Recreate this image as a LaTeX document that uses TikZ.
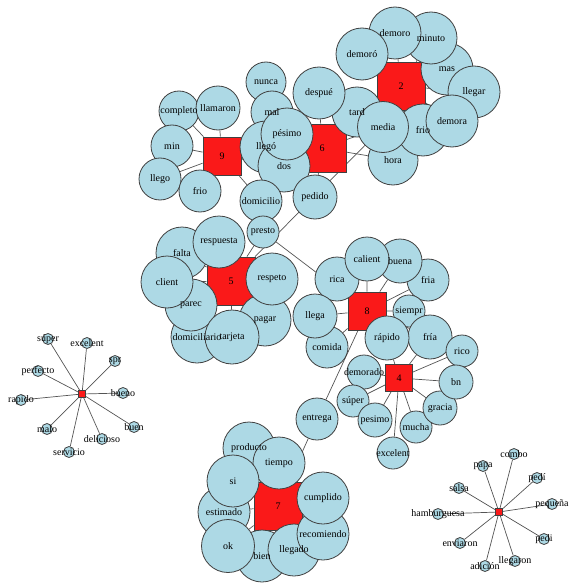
\documentclass[tikz,border=0pt]{standalone}
\usepackage{fontspec}
\setmainfont{Liberation Serif}
\usetikzlibrary{backgrounds}

\definecolor{qqblue}{rgb}{0.68,0.85,0.9}
\definecolor{qqred}{rgb}{0.98,0.1,0.1}
\definecolor{qqgray}{rgb}{0.33,0.33,0.33}
\definecolor{qqrim}{rgb}{0.25,0.25,0.25}

\begin{document}
\begin{tikzpicture}[x=1pt,y=-1pt,
    word/.style={circle,draw=qqrim,line width=0.8pt,fill=qqblue,inner sep=0pt},
    topic/.style={rectangle,draw=qqrim,line width=0.8pt,fill=qqred,inner sep=0pt},
    lbl/.style={font=\fontsize{10}{12}\selectfont,inner sep=0pt},
    edge/.style={line width=0.7pt,color=qqgray}]
    \useasboundingbox (0,0) rectangle (568,583);
    % topics
    \node[topic,minimum size=38pt] (t9) at (222,156) {};
    \node[topic,minimum size=48pt] (t6) at (322,148) {};
    \node[topic,minimum size=48pt] (t2) at (401,86) {};
    \node[topic,minimum size=48pt] (t5) at (231,281) {};
    \node[topic,minimum size=38pt] (t8) at (367,311) {};
    \node[topic,minimum size=27pt] (t4) at (399,378) {};
    \node[topic,minimum size=48pt] (t7) at (278,506) {};
    \node[topic,minimum size=7pt] (t1) at (82,394) {};
    \node[topic,minimum size=7pt] (t3) at (499,512) {};
    % words of 9
    \node[word,minimum size=40pt] (completo) at (179,111) {};
    \node[word,minimum size=44pt] (llamaron) at (218,108) {};
    \node[word,minimum size=42pt] (min) at (172,146) {};
    \node[word,minimum size=42pt] (llego) at (160,179) {};
    \node[word,minimum size=42pt] (frioA) at (200,191) {};
    \node[word,minimum size=40pt] (nunca) at (266,82) {};
    \node[word,minimum size=42pt] (mal) at (272,112) {};
    \node[word,minimum size=52pt] (llegoB) at (266,147) {};
    \node[word,minimum size=52pt] (dos) at (284,166) {};
    \node[word,minimum size=52pt] (pesimo) at (287,134) {};
    \node[word,minimum size=42pt] (domicilio) at (261,201) {};
    \node[word,minimum size=44pt] (pedido) at (315,197) {};
    % words of 6 and 2
    \node[word,minimum size=50pt] (tard) at (357,112) {};
    \node[word,minimum size=52pt] (despue) at (319,93) {};
    \node[word,minimum size=50pt] (hora) at (393,160) {};
    \node[word,minimum size=52pt] (frioB) at (423,130) {};
    \node[word,minimum size=51pt] (media) at (383,127) {};
    \node[word,minimum size=52pt] (mas) at (447,69) {};
    \node[word,minimum size=52pt] (llegar) at (474,92) {};
    \node[word,minimum size=52pt] (demora) at (452,121) {};
    \node[word,minimum size=52pt] (minuto) at (431,38) {};
    \node[word,minimum size=52pt] (demoro) at (395,33) {};
    \node[word,minimum size=52pt] (demoroB) at (362,54) {};
    % words of 5
    \node[word,minimum size=52pt] (falta) at (182,253) {};
    \node[word,minimum size=52pt] (respuesta) at (219,242) {};
    \node[word,minimum size=52pt] (domiciliario) at (197,337) {};
    \node[word,minimum size=52pt] (parec) at (191,305) {};
    \node[word,minimum size=52pt] (client) at (167,282) {};
    \node[word,minimum size=52pt] (pagar) at (265,320) {};
    \node[word,minimum size=54pt] (tarjeta) at (232,337) {};
    \node[word,minimum size=52pt] (respeto) at (272,279) {};
    \node[word,minimum size=32pt] (presto) at (263,232) {};
    % words of 8
    \node[word,minimum size=44pt] (rica) at (337,279) {};
    \node[word,minimum size=42pt] (fria) at (428,280) {};
    \node[word,minimum size=44pt] (buena) at (400,261) {};
    \node[word,minimum size=44pt] (calient) at (367,259) {};
    \node[word,minimum size=42pt] (comida) at (327,347) {};
    \node[word,minimum size=44pt] (llega) at (315,316) {};
    \node[word,minimum size=32pt] (siempr) at (409,311) {};
    \node[word,minimum size=44pt] (friaB) at (430,337) {};
    \node[word,minimum size=44pt] (rapido) at (387,338) {};
    \node[word,minimum size=32pt] (rico) at (462,351) {};
    % words of 4
    \node[word,minimum size=34pt] (demorado) at (364,372) {};
    \node[word,minimum size=32pt] (superB) at (353,401) {};
    \node[word,minimum size=34pt] (pesimoB) at (375,420) {};
    \node[word,minimum size=32pt] (mucha) at (416,427) {};
    \node[word,minimum size=32pt] (excelentB) at (393,453) {};
    \node[word,minimum size=34pt] (gracia) at (440,408) {};
    \node[word,minimum size=34pt] (bn) at (456,382) {};
    % words of 7
    \node[word,minimum size=52pt] (estimado) at (224,512) {};
    \node[word,minimum size=52pt] (producto) at (249,448) {};
    \node[word,minimum size=52pt] (tiempo) at (279,463) {};
    \node[word,minimum size=52pt] (si) at (233,481) {};
    \node[word,minimum size=52pt] (bien) at (262,556) {};
    \node[word,minimum size=53pt] (ok) at (228,546) {};
    \node[word,minimum size=52pt] (llegado) at (294,550) {};
    \node[word,minimum size=52pt] (recomiendo) at (323,534) {};
    \node[word,minimum size=52pt] (cumplido) at (323,498) {};
    \node[word,minimum size=42pt] (entrega) at (317,419) {};
    % words of 1
    \node[word,minimum size=11pt] (superA) at (48,339) {};
    \node[word,minimum size=11pt] (excelentA) at (87,343) {};
    \node[word,minimum size=11pt] (spr) at (115,361) {};
    \node[word,minimum size=11pt] (bueno) at (123,393) {};
    \node[word,minimum size=11pt] (buen) at (134,427) {};
    \node[word,minimum size=11pt] (delicioso) at (102,439) {};
    \node[word,minimum size=11pt] (servicio) at (69,452) {};
    \node[word,minimum size=11pt] (malo) at (47,429) {};
    \node[word,minimum size=11pt] (rapidoA) at (21,400) {};
    \node[word,minimum size=11pt] (perfecto) at (38,371) {};
    % words of 3
    \node[word,minimum size=11pt] (combo) at (514,454) {};
    \node[word,minimum size=11pt] (papa) at (483,466) {};
    \node[word,minimum size=11pt] (pediA) at (537,478) {};
    \node[word,minimum size=11pt] (pequena) at (552,504) {};
    \node[word,minimum size=11pt] (pediB) at (544,539) {};
    \node[word,minimum size=11pt] (llegaron) at (515,561) {};
    \node[word,minimum size=11pt] (adicion) at (485,566) {};
    \node[word,minimum size=11pt] (enviaron) at (460,543) {};
    \node[word,minimum size=11pt] (hamburguesa) at (438,514) {};
    \node[word,minimum size=11pt] (salsa) at (459,488) {};
    % edges
    \begin{pgfonlayer}{background}
        \draw[edge] (t9) -- (completo) (t9) -- (llamaron) (t9) -- (min) (t9) -- (llego) (t9) -- (frioA) (t9) -- (domicilio) (t9) -- (mal) (t9) -- (llegoB) (t9) -- (dos);
        \draw[edge] (t6) -- (despue) (t6) -- (tard) (t6) -- (pedido) (t6) -- (hora) (t6) -- (media) (t6) -- (pesimo) (t6) -- (dos) (t6) -- (llegoB) (t6) -- (nunca) (t6) -- (mal);
        \draw[edge] (t2) -- (demoroB) (t2) -- (demoro) (t2) -- (minuto) (t2) -- (mas) (t2) -- (llegar) (t2) -- (frioB) (t2) -- (demora) (t2) -- (media) (t2) -- (tard);
        \draw[edge] (t5) -- (presto) (t5) -- (falta) (t5) -- (respuesta) (t5) -- (client) (t5) -- (parec) (t5) -- (respeto) (t5) -- (pagar) (t5) -- (domiciliario) (t5) -- (tarjeta) (t5) -- (media);
        \draw[edge] (t8) -- (presto) (t8) -- (rica) (t8) -- (calient) (t8) -- (buena) (t8) -- (fria) (t8) -- (llega) (t8) -- (comida) (t8) -- (siempr) (t8) -- (rapido) (t8) -- (friaB) (t8) -- (entrega);
        \draw[edge] (t4) -- (rapido) (t4) -- (demorado) (t4) -- (bn) (t4) -- (superB) (t4) -- (pesimoB) (t4) -- (gracia) (t4) -- (mucha) (t4) -- (excelentB) (t4) -- (rico) (t4) -- (friaB);
        \draw[edge] (t7) -- (entrega) (t7) -- (producto) (t7) -- (tiempo) (t7) -- (si) (t7) -- (estimado) (t7) -- (cumplido) (t7) -- (recomiendo) (t7) -- (ok) (t7) -- (bien) (t7) -- (llegado);
        \draw[edge] (t1) -- (superA) (t1) -- (excelentA) (t1) -- (spr) (t1) -- (bueno) (t1) -- (buen) (t1) -- (delicioso) (t1) -- (servicio) (t1) -- (malo) (t1) -- (rapidoA) (t1) -- (perfecto);
        \draw[edge] (t3) -- (combo) (t3) -- (papa) (t3) -- (pediA) (t3) -- (pequena) (t3) -- (pediB) (t3) -- (llegaron) (t3) -- (adicion) (t3) -- (enviaron) (t3) -- (hamburguesa) (t3) -- (salsa);
    \end{pgfonlayer}
    % labels
    \node[lbl] (t9-l) at (t9) {9};
    \node[lbl] (t6-l) at (t6) {6};
    \node[lbl] (t2-l) at (t2) {2};
    \node[lbl] (t5-l) at (t5) {5};
    \node[lbl] (t8-l) at (t8) {8};
    \node[lbl] (t4-l) at (t4) {4};
    \node[lbl] (t7-l) at (t7) {7};
    \node[lbl] (completo-l) at (completo) {completo};
    \node[lbl] (llamaron-l) at (llamaron) {llamaron};
    \node[lbl] (min-l) at (min) {min};
    \node[lbl] (llego-l) at (llego) {llego};
    \node[lbl] (frioA-l) at (frioA) {frio};
    \node[lbl] (nunca-l) at (nunca) {nunca};
    \node[lbl] (mal-l) at (mal) {mal};
    \node[lbl] (llegoB-l) at (llegoB) {llegó};
    \node[lbl] (dos-l) at (dos) {dos};
    \node[lbl] (pesimo-l) at (pesimo) {pésimo};
    \node[lbl] (domicilio-l) at (domicilio) {domicilio};
    \node[lbl] (pedido-l) at (pedido) {pedido};
    \node[lbl] (tard-l) at (tard) {tard};
    \node[lbl] (despue-l) at (despue) {despué};
    \node[lbl] (hora-l) at (hora) {hora};
    \node[lbl] (frioB-l) at (frioB) {frio};
    \node[lbl] (media-l) at (media) {media};
    \node[lbl] (mas-l) at (mas) {mas};
    \node[lbl] (llegar-l) at (llegar) {llegar};
    \node[lbl] (demora-l) at (demora) {demora};
    \node[lbl] (minuto-l) at (minuto) {minuto};
    \node[lbl] (demoro-l) at (demoro) {demoro};
    \node[lbl] (demoroB-l) at (demoroB) {demoró};
    \node[lbl] (falta-l) at (falta) {falta};
    \node[lbl] (respuesta-l) at (respuesta) {respuesta};
    \node[lbl] (domiciliario-l) at (domiciliario) {domiciliario};
    \node[lbl] (parec-l) at (parec) {parec};
    \node[lbl] (client-l) at (client) {client};
    \node[lbl] (pagar-l) at (pagar) {pagar};
    \node[lbl] (tarjeta-l) at (tarjeta) {tarjeta};
    \node[lbl] (respeto-l) at (respeto) {respeto};
    \node[lbl] (presto-l) at (presto) {presto};
    \node[lbl] (rica-l) at (rica) {rica};
    \node[lbl] (fria-l) at (fria) {fria};
    \node[lbl] (buena-l) at (buena) {buena};
    \node[lbl] (calient-l) at (calient) {calient};
    \node[lbl] (comida-l) at (comida) {comida};
    \node[lbl] (llega-l) at (llega) {llega};
    \node[lbl] (siempr-l) at (siempr) {siempr};
    \node[lbl] (friaB-l) at (friaB) {fría};
    \node[lbl] (rapido-l) at (rapido) {rápido};
    \node[lbl] (rico-l) at (rico) {rico};
    \node[lbl] (demorado-l) at (demorado) {demorado};
    \node[lbl] (superB-l) at (superB) {súper};
    \node[lbl] (pesimoB-l) at (pesimoB) {pesimo};
    \node[lbl] (mucha-l) at (mucha) {mucha};
    \node[lbl] (excelentB-l) at (excelentB) {excelent};
    \node[lbl] (gracia-l) at (gracia) {gracia};
    \node[lbl] (bn-l) at (bn) {bn};
    \node[lbl] (estimado-l) at (estimado) {estimado};
    \node[lbl] (producto-l) at (producto) {producto};
    \node[lbl] (tiempo-l) at (tiempo) {tiempo};
    \node[lbl] (si-l) at (si) {si};
    \node[lbl] (bien-l) at (bien) {bien};
    \node[lbl] (ok-l) at (ok) {ok};
    \node[lbl] (llegado-l) at (llegado) {llegado};
    \node[lbl] (recomiendo-l) at (recomiendo) {recomiendo};
    \node[lbl] (cumplido-l) at (cumplido) {cumplido};
    \node[lbl] (entrega-l) at (entrega) {entrega};
    \node[lbl] (superA-l) at (superA) {súper};
    \node[lbl] (excelentA-l) at (excelentA) {excelent};
    \node[lbl] (spr-l) at (spr) {spr};
    \node[lbl] (bueno-l) at (bueno) {bueno};
    \node[lbl] (buen-l) at (buen) {buen};
    \node[lbl] (delicioso-l) at (delicioso) {delicioso};
    \node[lbl] (servicio-l) at (servicio) {servicio};
    \node[lbl] (malo-l) at (malo) {malo};
    \node[lbl] (rapidoA-l) at (rapidoA) {rapido};
    \node[lbl] (perfecto-l) at (perfecto) {perfecto};
    \node[lbl] (combo-l) at (combo) {combo};
    \node[lbl] (papa-l) at (papa) {papa};
    \node[lbl] (pediA-l) at (pediA) {pedí};
    \node[lbl] (pequena-l) at (pequena) {pequeña};
    \node[lbl] (pediB-l) at (pediB) {pedi};
    \node[lbl] (llegaron-l) at (llegaron) {llegaron};
    \node[lbl] (adicion-l) at (adicion) {adición};
    \node[lbl] (enviaron-l) at (enviaron) {enviaron};
    \node[lbl] (hamburguesa-l) at (hamburguesa) {hamburguesa};
    \node[lbl] (salsa-l) at (salsa) {salsa};
\end{tikzpicture}
\end{document}
